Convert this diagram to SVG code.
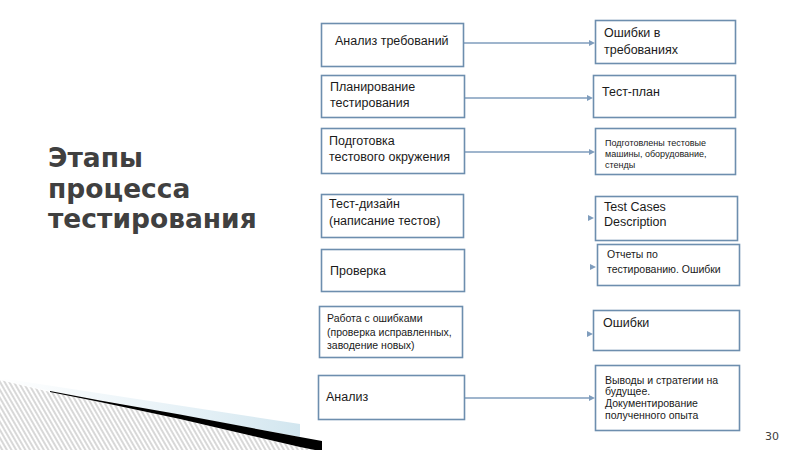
<svg xmlns="http://www.w3.org/2000/svg" width="800" height="450" viewBox="0 0 800 450">
<defs>
<style>
.box{fill:#fff;stroke:#6d8eae;stroke-width:1.6}
.t{font-family:"Liberation Sans",Arial,sans-serif;font-size:12.5px;fill:#1a1a1a}
.s{font-size:10.5px}
.xs{font-size:9px}
.title{font-family:"DejaVu Sans",Verdana,sans-serif;font-weight:bold;font-size:26.5px;fill:#404040}
.ln{stroke:#7f9dbd;stroke-width:1.3;fill:none}
.hd{fill:#7f9dbd}
</style>
<pattern id="hatch" width="4" height="4" patternUnits="userSpaceOnUse" patternTransform="rotate(-30)">
<line x1="1" y1="0" x2="1" y2="4" stroke="#a8a8a8" stroke-width="0.9"/>
</pattern>
<linearGradient id="blue" x1="0" y1="0" x2="1" y2="0">
<stop offset="0" stop-color="#e4f0f6" stop-opacity="0"/>
<stop offset="0.4" stop-color="#e4f0f6" stop-opacity="0.6"/>
<stop offset="1" stop-color="#d2e6ef"/>
</linearGradient>
</defs>
<rect width="800" height="450" fill="#fff"/>
<g id="decoration">
<polygon points="0,378 300,424 300,437 50,391 0,380" fill="url(#blue)"/>
<polygon points="0,380 50,392 100,402 180,419 300,447 315,450 0,450" fill="url(#hatch)"/>
<polygon points="50,391 100,400.5 180,414.5 300,437 322,441 322,450 315,450 300,447 180,419 100,402 50,392" fill="#000"/>
</g>
<g id="title">
<text class="title" x="48" y="167">Этапы</text>
<text class="title" x="48" y="198">процесса</text>
<text class="title" x="48" y="228">тестирования</text>
</g>
<g id="connectors">
<line class="ln" x1="463" y1="43" x2="590" y2="43"/>
<polygon class="hd" points="589,40 595,43 589,46"/>
<line class="ln" x1="464" y1="98" x2="588" y2="98"/>
<polygon class="hd" points="587,95 593,98 587,101"/>
<line class="ln" x1="464" y1="152" x2="590" y2="152"/>
<polygon class="hd" points="589,149 595,152 589,155"/>
<polygon class="hd" points="588,215 594,218 588,221"/>
<polygon class="hd" points="590,264 596,267 590,270"/>
<polygon class="hd" points="587,331 593,334 587,337"/>
<line class="ln" x1="464" y1="398" x2="590" y2="398"/>
<polygon class="hd" points="589,395 595,398 589,401"/>
</g>
<g id="n1"><rect class="box" x="321.5" y="23.5" width="142" height="43"/><text class="t" x="335" y="45">Анализ требований</text></g>
<g id="n2"><rect class="box" x="321.5" y="75.5" width="143" height="42"/><text class="t" x="330" y="91">Планирование</text><text class="t" x="330" y="107">тестирования</text></g>
<g id="n3"><rect class="box" x="321.5" y="128.5" width="143" height="45"/><text class="t" x="329" y="145">Подготовка</text><text class="t" x="329" y="161">тестового окружения</text></g>
<g id="n4"><rect class="box" x="321.5" y="194.5" width="142" height="43"/><text class="t" x="329" y="208">Тест-дизайн</text><text class="t" x="329" y="225">(написание тестов)</text></g>
<g id="n5"><rect class="box" x="321.5" y="249.5" width="143" height="42"/><text class="t" x="330" y="275">Проверка</text></g>
<g id="n6"><rect class="box" x="319.5" y="306.5" width="143" height="51"/><text class="t s" x="327" y="322">Работа с ошибками</text><text class="t s" x="327" y="336">(проверка исправленных,</text><text class="t s" x="327" y="349">заводение новых)</text></g>
<g id="n7"><rect class="box" x="318.5" y="375.5" width="146" height="44"/><text class="t" x="326" y="401">Анализ</text></g>
<g id="r1"><rect class="box" x="595.5" y="20.5" width="140" height="43"/><text class="t" x="604" y="37">Ошибки в</text><text class="t" x="604" y="54">требованиях</text></g>
<g id="r2"><rect class="box" x="593.5" y="75.5" width="142" height="42"/><text class="t" x="602" y="96">Тест-план</text></g>
<g id="r3"><rect class="box" x="595.5" y="128.5" width="140" height="46"/><text class="t xs" x="605" y="146">Подготовлены тестовые</text><text class="t xs" x="605" y="157">машины, оборудование,</text><text class="t xs" x="605" y="168">стенды</text></g>
<g id="r4"><rect class="box" x="595.5" y="196.5" width="142" height="44"/><text class="t" x="604" y="211">Test Cases</text><text class="t" x="604" y="226">Description</text></g>
<g id="r5"><rect class="box" x="597.5" y="244.5" width="142" height="41"/><text class="t s" x="607" y="258">Отчеты по</text><text class="t s" x="607" y="273">тестированию. Ошибки</text></g>
<g id="r6"><rect class="box" x="593.5" y="310.5" width="146" height="40"/><text class="t" x="603" y="327">Ошибки</text></g>
<g id="r7"><rect class="box" x="595.5" y="365.5" width="144" height="65"/><text class="t s" x="605" y="384">Выводы и стратегии на</text><text class="t s" x="605" y="395">будущее.</text><text class="t s" x="605" y="407">Документирование</text><text class="t s" x="605" y="419">полученного опыта</text></g>
<text x="765" y="440" font-family="DejaVu Sans,Verdana,sans-serif" font-size="11" fill="#404040">30</text>
</svg>
